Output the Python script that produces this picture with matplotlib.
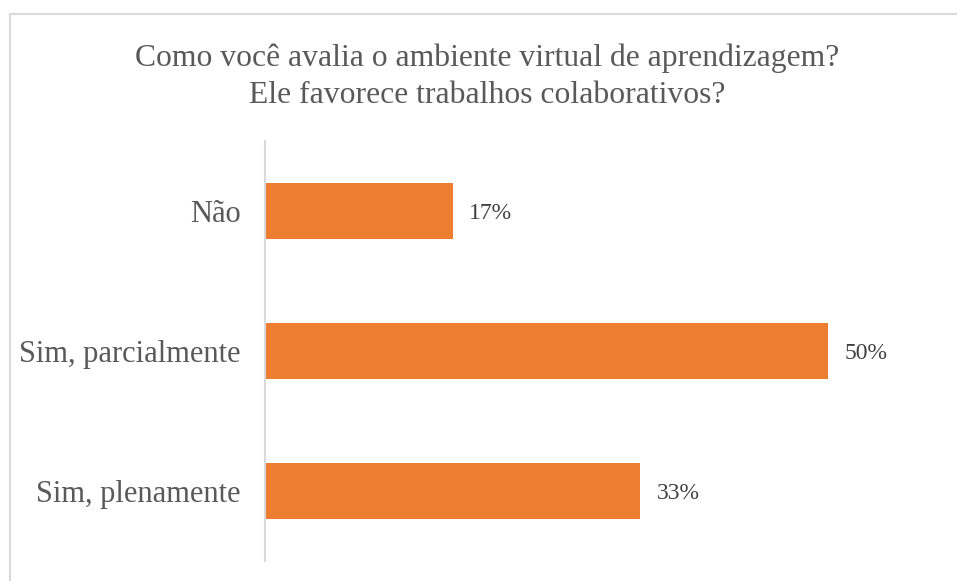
import matplotlib
matplotlib.use('Agg')
import matplotlib.pyplot as plt
from matplotlib.patches import Rectangle

# dados do grafico (percentuais)
categorias = ['Sim, plenamente', 'Sim, parcialmente', 'Não']
valores = [33.33, 50.0, 16.67]
rotulos = ['33%', '50%', '17%']
titulo = 'Como você avalia o ambiente virtual de aprendizagem?\nEle favorece trabalhos colaborativos?'

plt.rcParams['font.family'] = ['Liberation Serif', 'DejaVu Serif']

W, H = 957, 581
fig = plt.figure(figsize=(W / 100, H / 100), dpi=100)
fig.patch.set_facecolor('white')

# moldura do grafico (cortada a direita e embaixo)
fig.patches.append(Rectangle((9.5 / W, -0.05), 1.1, (H - 13.5) / H + 0.05,
                             transform=fig.transFigure, fill=False,
                             edgecolor='#D9D9D9', linewidth=1.5))

ax = fig.add_axes([265 / W, (H - 561) / H, (940 - 265) / W, 420 / H])
y = range(len(categorias))
ax.barh(y, valores, height=0.4, color='#ED7D31')
ax.set_xlim(0, 60)
ax.set_ylim(-0.5, 2.5)
ax.set_yticks(list(y))
ax.set_yticklabels(categorias, fontsize=22, color='#595959')
ax.tick_params(axis='y', length=0, pad=17.5)
ax.set_xticks([])
for s in ['top', 'right', 'bottom']:
    ax.spines[s].set_visible(False)
ax.spines['left'].set_color('#D9D9D9')
ax.spines['left'].set_linewidth(1.5)

for yi, v, r in zip(y, valores, rotulos):
    ax.annotate(r, (v, yi), xytext=(12, -2), textcoords='offset points',
                va='center', ha='left', fontsize=17, color='#404040')

fig.text(487 / W, 1 - 77 / H, titulo, ha='center', va='center',
         fontsize=22.8, color='#595959', linespacing=1.35)

fig.savefig('out.png', dpi=100)
